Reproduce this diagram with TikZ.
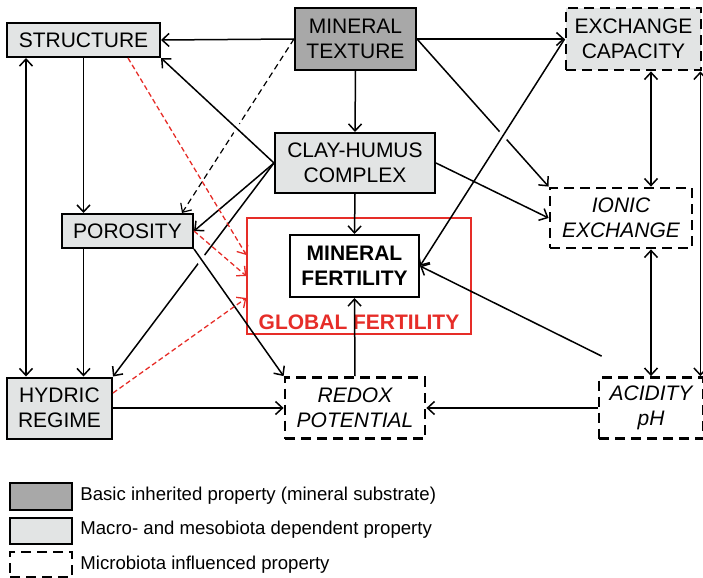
\documentclass[tikz,border=0pt]{standalone}
\usepackage{fontspec}
\setmainfont{Liberation Sans}
\usetikzlibrary{arrows.meta,calc}
\definecolor{darkbox}{RGB}{168,168,168}
\definecolor{lightbox}{RGB}{226,228,228}
\definecolor{fertred}{RGB}{230,45,40}
\begin{document}
\begin{tikzpicture}[x=0.5pt,y=-0.5pt,
	>={Straight Barb[length=3.5pt,width=6.5pt]},
	prop/.style={draw,line width=1pt,align=center,inner sep=0pt,font=\fontsize{10.5}{12.6}\selectfont},
	inherited/.style={prop,fill=darkbox},
	macro/.style={prop,fill=lightbox},
	micro/.style={prop,fill=white,line width=1.4pt,dash pattern=on 5pt off 3pt},
	itfont/.style={font=\fontsize{10.5}{12.6}\selectfont\itshape},
	link/.style={->,line width=0.75pt},
	redlink/.style={->,fertred,line width=0.65pt,dash pattern=on 2.5pt off 1.5pt},
	bridge/.style={draw=white,line width=5pt}]% soil fertility
	\useasboundingbox (0,0) rectangle (703,578);
	\node[macro,minimum width=76.5pt,minimum height=17pt] (structure) at (83.5,40) {STRUCTURE};
	\node[inherited,minimum width=60.5pt,minimum height=31pt] (texture) at (355.5,39) {MINERAL\\TEXTURE};
	\node[micro,fill=lightbox,minimum width=67.5pt,minimum height=31pt] (capacity) at (633.5,39) {EXCHANGE\\CAPACITY};
	\node[macro,minimum width=80pt,minimum height=30pt] (clay) at (355,163) {CLAY-HUMUS\\COMPLEX};
	\node[macro,minimum width=65.5pt,minimum height=17pt] (porosity) at (127.5,231) {POROSITY};
	\node[micro,itfont,minimum width=71pt,minimum height=30pt] (ionic) at (621,218) {IONIC\\EXCHANGE};
	\node[draw=fertred,line width=0.65pt,minimum width=112pt,minimum height=58pt,inner sep=0pt] (global) at (359,276) {};
	\node[text=fertred,font=\fontsize{10.5}{12.6}\selectfont\bfseries] (globallabel) at (359,322) {GLOBAL FERTILITY};
	\node[prop,fill=white,font=\fontsize{10.5}{12.6}\selectfont\bfseries,minimum width=64.5pt,minimum height=31pt] (mineral) at (354.5,266) {MINERAL\\FERTILITY};
	\node[macro,minimum width=52.5pt,minimum height=30.5pt] (hydric) at (59.5,408) {HYDRIC\\REGIME};
	\node[micro,itfont,minimum width=70pt,minimum height=30.5pt] (redox) at (355,408) {REDOX\\POTENTIAL};
	\node[micro,itfont,minimum width=52pt,minimum height=30.5pt] (acidity) at (651,408) {ACIDITY\\pH};
	% arrows
	\draw[link] (texture.west) -- (structure.east);
	\draw[link] (texture.east) -- (capacity.west);
	\draw[link] (texture.south) -- (clay.north);
	\draw[link] (texture.east) -- (ionic.north west);
	\draw[bridge] ($(capacity.west)!0.37!(mineral.east)$) -- ($(capacity.west)!0.49!(mineral.east)$);
	\draw[link] (capacity.west) -- (mineral.east);
	\draw[->,line width=0.6pt,dash pattern=on 3pt off 2pt] (texture.west) -- ([xshift=-6pt]porosity.north east);
	\draw[bridge] ($(clay.west)!0.26!(structure.south east)$) -- ($(clay.west)!0.41!(structure.south east)$);
	\draw[link] (clay.west) -- (structure.south east);
	\draw[link] (clay.west) -- (porosity.east);
	\draw[link] (clay.west) -- (hydric.north east);
	\draw[bridge] ($(porosity.south east)!0.05!(redox.north west)$) -- ($(porosity.south east)!0.15!(redox.north west)$);
	\draw[link] (porosity.south east) -- (redox.north west);
	\draw[link] (structure.south) -- (structure.south |- porosity.north);
	\draw[link] (structure.south |- porosity.south) -- (structure.south |- hydric.north);
	\draw[link,<->] ([xshift=10pt]structure.south west) -- ([xshift=10pt]hydric.north west);
	\draw[link] (clay.south) -- (mineral.north);
	\draw[link] (clay.east) -- (ionic.west);
	\draw[link] (redox.north) -- (mineral.south);
	\draw[link] (hydric.east) -- (redox.west);
	\draw[link] (acidity.west) -- (redox.east);
	\coordinate (acidtail) at ([xshift=2pt,yshift=10pt]acidity.north west);
	\draw[link] (acidtail) -- (mineral.east);
	\draw[link,<->] (acidity.north |- capacity.south) -- (acidity.north |- ionic.north);
	\draw[link,<->] (acidity.north |- ionic.south) -- (acidity.north);
	\draw[link,<->] ([xshift=-2pt]acidity.north east |- capacity.south) -- ([xshift=-2pt]acidity.north east);
	\draw[redlink] ([xshift=-16.5pt]structure.south east) -- ([yshift=10.5pt]global.west);
	\draw[redlink] (porosity.east) -- (global.west);
	\draw[redlink] ([yshift=7.5pt]hydric.east) -- ([yshift=-11pt]global.west);
	% legend
	\node[inherited,minimum width=31pt,minimum height=13.5pt] (keyinherited) at (41,496.5) {};
	\node[macro,minimum width=31pt,minimum height=13pt] (keymacro) at (41,531) {};
	\node[micro,minimum width=31pt,minimum height=12.5pt] (keymicro) at (41,564.5) {};
	\foreach \y/\txt [count=\i] in {496/Basic inherited property (mineral substrate),530/Macro- and mesobiota dependent property,565/Microbiota influenced property}
	\node[anchor=west,inner sep=0pt,font=\fontsize{9.3}{11}\selectfont] (keytext\i) at (80,\y) {\txt};
\end{tikzpicture}
\end{document}
